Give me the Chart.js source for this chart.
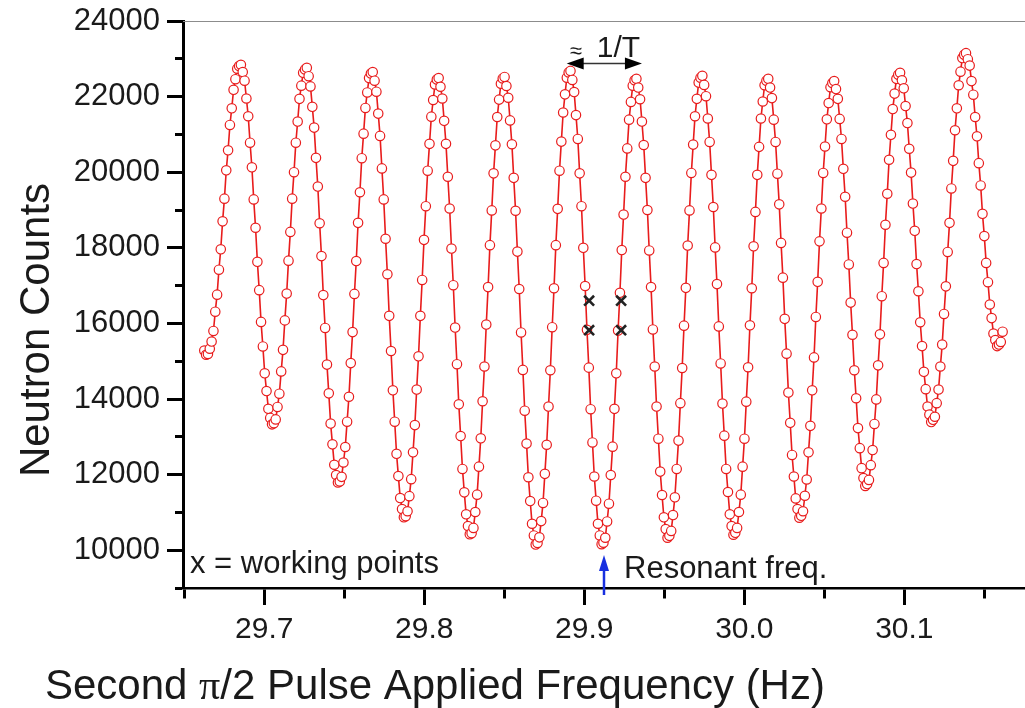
<!DOCTYPE html>
<html>
<head>
<meta charset="utf-8">
<script src="https://cdn.jsdelivr.net/npm/chart.js@4.4.1/dist/chart.umd.min.js"></script>
<style>
  html, body { margin: 0; padding: 0; background: #fff; }
  #wrap { width: 1025px; height: 708px; }
</style>
</head>
<body>
<div id="wrap"><canvas id="fringes" width="1025" height="708"></canvas></div>
<script>
// Frequency sweep (Hz): uniform steps of the second pulse
const sweepStart = 29.6625;
const sweepStep = 0.0011443;

// Neutron counts, one per sweep step
const counts = [
  15280, 15170,
  15190, 15330, 15520, 15800, 16310, 16760, 17420, 17960, 18700, 19300, 20050, 20580, 21250, 21690, 22180, 22460, 22740, 22810,
  22840, 22650, 22420, 21950, 21480, 20780, 20130, 19280, 18530, 17630, 16880, 16040, 15390, 14680, 14210, 13740, 13500, 13330,
  13360, 13460, 13790, 14140, 14730, 15300, 16080, 16790, 17660, 18420, 19300, 20000, 20780, 21340, 21940, 22290, 22630, 22720,
  22760, 22540, 22270, 21730, 21180, 20380, 19620, 18650, 17780, 16750, 15880, 14910, 14150, 13350, 12800, 12260, 11990, 11790,
  11820, 11940, 12320, 12730, 13400, 14060, 14950, 15770, 16780, 17650, 18660, 19470, 20370, 21020, 21700, 22110, 22490, 22610,
  22650, 22420, 22130, 21550, 20960, 20100, 19280, 18240, 17300, 16200, 15270, 14230, 13400, 12550, 11960, 11380, 11090, 10870,
  10900, 11030, 11430, 11880, 12590, 13310, 14250, 15130, 16200, 17150, 18210, 19100, 20040, 20750, 21470, 21910, 22320, 22450,
  22490, 22260, 21950, 21360, 20750, 19880, 19040, 17980, 17010, 15890, 14920, 13860, 13020, 12150, 11530, 10950, 10640, 10420,
  10450, 10590, 11010, 11470, 12210, 12960, 13940, 14860, 15970, 16960, 18070, 18990, 19970, 20710, 21460, 21920, 22340, 22480,
  22520, 22280, 21970, 21370, 20740, 19850, 18980, 17900, 16910, 15760, 14770, 13690, 12820, 11930, 11300, 10700, 10390, 10150,
  10190, 10340, 10770, 11250, 12020, 12790, 13800, 14760, 15900, 16930, 18070, 19030, 20040, 20810, 21580, 22060, 22500, 22640,
  22680, 22440, 22120, 21510, 20880, 19970, 19100, 18000, 16990, 15830, 14830, 13730, 12850, 11950, 11310, 10700, 10390, 10160,
  10200, 10330, 10760, 11230, 11990, 12740, 13740, 14680, 15810, 16810, 17940, 18880, 19880, 20630, 21390, 21860, 22290, 22430,
  22470, 22240, 21930, 21340, 20720, 19850, 19000, 17930, 16960, 15840, 14860, 13800, 12950, 12080, 11460, 10870, 10560, 10330,
  10380, 10510, 10930, 11400, 12150, 12900, 13890, 14820, 15940, 16940, 18060, 18990, 19980, 20730, 21480, 21940, 22370, 22500,
  22550, 22310, 22010, 21420, 20800, 19930, 19080, 18010, 17040, 15920, 14940, 13880, 13030, 12150, 11540, 10950, 10640, 10410,
  10460, 10590, 11010, 11470, 12210, 12950, 13930, 14840, 15950, 16930, 18040, 18950, 19930, 20670, 21420, 21870, 22300, 22420,
  22470, 22240, 21960, 21390, 20800, 19960, 19150, 18130, 17210, 16120, 15200, 14170, 13370, 12520, 11950, 11370, 11090, 10860,
  10910, 11030, 11440, 11870, 12590, 13290, 14230, 15100, 16170, 17100, 18170, 19040, 19980, 20680, 21400, 21830, 22250, 22360,
  22410, 22200, 21940, 21410, 20880, 20090, 19350, 18400, 17560, 16550, 15700, 14760, 14020, 13230, 12700, 12170, 11910, 11700,
  11750, 11860, 12250, 12650, 13340, 13990, 14890, 15710, 16720, 17600, 18610, 19430, 20330, 20990, 21670, 22080, 22470, 22580,
  22630, 22430, 22220, 21750, 21300, 20620, 19990, 19170, 18450, 17570, 16850, 16030, 15400, 14720, 14260, 13800, 13590, 13390,
  13450, 13530, 13890, 14250, 14860, 15440, 16250, 16980, 17890, 18660, 19570, 20300, 21110, 21690, 22300, 22660, 23020, 23110,
  23150, 22990, 22820, 22410, 22050, 21460, 20950, 20240, 19650, 18900, 18310, 17600, 17090, 16500, 16140, 15730, 15560, 15400,
  15440, 15510, 15780
];

// working points (black x)
const workingFreqs = [29.903, 29.903, 29.923, 29.923];
const workingCounts = [16600, 15820, 16600, 15820];

// annotations
const resonantFreq = 29.912;
const resonantArrowTop = 9870;
const periodFrom = 29.889;
const periodTo = 29.936;
const periodLevel = 22900;

const xMin = 29.6492, xMax = 30.1754;
const yMin = 9000, yMax = 24000;

const RED = 'rgb(232,28,28)';
const TXT = '#1a1a1a';
const FONT = "'Liberation Sans', Arial, sans-serif";

const fringeData = counts.map((c, i) => ({ x: sweepStart + i * sweepStep, y: c }));
const workingData = workingFreqs.map((f, i) => ({ x: f, y: workingCounts[i] }));

const isMinorX = t => t && Math.round(t.value * 20) % 2 !== 0;
const isMinorY = t => t && Math.round(t.value / 1000) % 2 !== 0;

const extras = {
  id: 'extras',
  afterDatasetsDraw(chart) {
    const { ctx, chartArea, scales: { x, y } } = chart;
    ctx.save();

    // thin top frame
    ctx.strokeStyle = '#8c8c8c';
    ctx.lineWidth = 1;
    ctx.beginPath();
    ctx.moveTo(chartArea.left, chartArea.top + 0.5);
    ctx.lineTo(chartArea.right, chartArea.top + 0.5);
    ctx.stroke();

    ctx.fillStyle = TXT;
    ctx.textBaseline = 'alphabetic';
    ctx.textAlign = 'left';

    // legend note
    ctx.font = '31px ' + FONT;
    ctx.fillText('x = working points', chartArea.left + 7, 573);

    // resonant frequency arrow
    const rx = Math.round(x.getPixelForValue(resonantFreq));
    const tip = y.getPixelForValue(resonantArrowTop);
    ctx.strokeStyle = '#1830e0';
    ctx.fillStyle = '#1830e0';
    ctx.lineWidth = 2.5;
    ctx.beginPath();
    ctx.moveTo(rx, chartArea.bottom + 7);
    ctx.lineTo(rx, tip + 12);
    ctx.stroke();
    ctx.beginPath();
    ctx.moveTo(rx, tip);
    ctx.lineTo(rx - 5, tip + 16);
    ctx.lineTo(rx + 5, tip + 16);
    ctx.closePath();
    ctx.fill();
    ctx.fillStyle = TXT;
    ctx.fillText('Resonant freq.', rx + 20, 578);

    // 1/T double arrow
    const ax1 = x.getPixelForValue(periodFrom);
    const ax2 = x.getPixelForValue(periodTo);
    const ay = Math.round(y.getPixelForValue(periodLevel)) + 0.5;
    ctx.strokeStyle = '#333';
    ctx.lineWidth = 1.5;
    ctx.beginPath();
    ctx.moveTo(ax1 + 10, ay);
    ctx.lineTo(ax2 - 10, ay);
    ctx.stroke();
    ctx.fillStyle = '#000';
    ctx.beginPath();
    ctx.moveTo(ax1, ay); ctx.lineTo(ax1 + 17, ay - 6); ctx.lineTo(ax1 + 17, ay + 6); ctx.closePath();
    ctx.fill();
    ctx.beginPath();
    ctx.moveTo(ax2, ay); ctx.lineTo(ax2 - 17, ay - 6); ctx.lineTo(ax2 - 17, ay + 6); ctx.closePath();
    ctx.fill();
    ctx.fillStyle = TXT;
    ctx.font = '22px ' + FONT;
    ctx.fillText('\u2248', ax1 + 3, 58);
    ctx.font = '30px ' + FONT;
    ctx.fillText('1/T', ax1 + 30, 57);

    // axis titles
    ctx.font = '42px ' + FONT;
    let tx = 45;
    const part1 = 'Second ';
    ctx.fillText(part1, tx, 699);
    tx += ctx.measureText(part1).width;
    ctx.font = "42px 'Liberation Serif', 'Times New Roman', serif";
    ctx.fillText('\u03c0', tx, 699);
    tx += ctx.measureText('\u03c0').width;
    ctx.font = '42px ' + FONT;
    ctx.fillText('/2 Pulse Applied Frequency (Hz)', tx, 699);

    ctx.translate(49, 330);
    ctx.rotate(-Math.PI / 2);
    ctx.textAlign = 'center';
    ctx.fillText('Neutron Counts', 0, 0);
    ctx.restore();
  }
};

new Chart(document.getElementById('fringes'), {
  type: 'line',
  data: {
    datasets: [
      {
        label: 'working points',
        data: workingData,
        showLine: false,
        pointStyle: 'crossRot',
        pointRadius: 7,
        pointBorderWidth: 2.6,
        pointBorderColor: '#222',
        borderColor: '#222'
      },
      {
        label: 'Neutron counts',
        data: fringeData,
        borderColor: RED,
        borderWidth: 1.6,
        tension: 0,
        pointRadius: 4.7,
        pointBorderWidth: 1.2,
        pointBorderColor: RED,
        pointBackgroundColor: '#fff'
      }
    ]
  },
  options: {
    responsive: false,
    animation: false,
    devicePixelRatio: 1,
    layout: { autoPadding: false, padding: { top: 21, left: 0, right: 0, bottom: 0 } },
    plugins: { legend: { display: false }, tooltip: { enabled: false } },
    scales: {
      x: {
        type: 'linear',
        min: xMin,
        max: xMax,
        afterFit: s => { s.height = 120; s.paddingLeft = 0; s.paddingRight = 0; },
        border: { color: '#000', width: 2.5 },
        grid: {
          drawOnChartArea: false,
          tickLength: 17,
          tickWidth: 3,
          tickColor: '#000',
          tickBorderDash: c => isMinorX(c.tick) ? [9, 100] : []
        },
        ticks: {
          stepSize: 0.05,
          includeBounds: false,
          autoSkip: false,
          maxRotation: 0,
          minRotation: 0,
          padding: 7,
          color: TXT,
          font: { family: FONT, size: 30 },
          callback: v => (Math.round(v * 20) % 2 === 0 ? v.toFixed(1) : '')
        }
      },
      y: {
        type: 'linear',
        min: yMin,
        max: yMax,
        afterFit: s => { s.width = 183; s.paddingTop = 0; s.paddingBottom = 0; },
        border: { color: '#000', width: 3 },
        grid: {
          drawOnChartArea: false,
          tickLength: 16,
          tickWidth: 3,
          tickColor: '#000',
          tickBorderDash: c => isMinorY(c.tick) ? [0, 8, 8, 100] : []
        },
        ticks: {
          stepSize: 1000,
          includeBounds: false,
          autoSkip: false,
          padding: 7,
          color: TXT,
          font: { family: FONT, size: 31 },
          callback: v => (v % 2000 === 0 ? String(v) : '')
        }
      }
    }
  },
  plugins: [extras]
});
</script>
</body>
</html>
